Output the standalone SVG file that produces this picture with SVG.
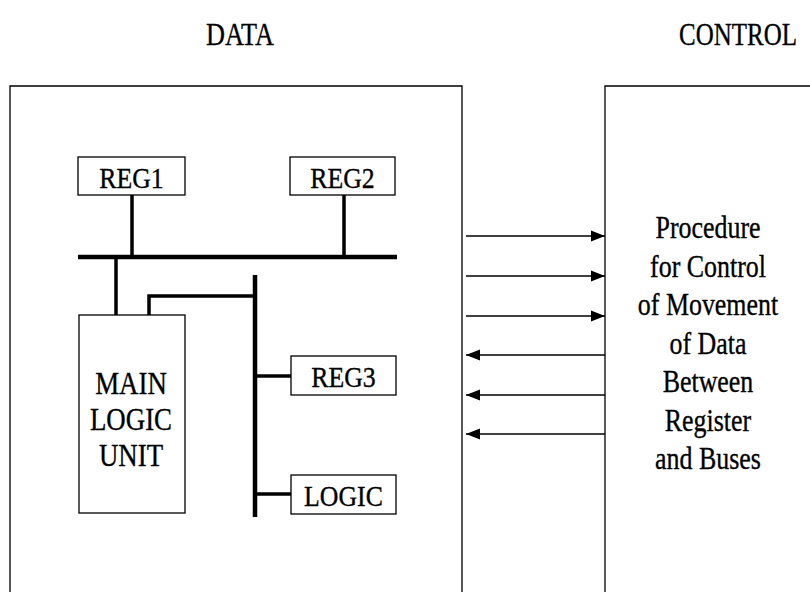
<svg xmlns="http://www.w3.org/2000/svg" width="810" height="592" viewBox="0 0 810 592">
<style>
  text { font-family: "Liberation Serif", "Times New Roman", serif; fill: #000; stroke: #000; stroke-width: 0.35; text-anchor: middle; }
  .hdr { font-size: 32px; }
  .reg { font-size: 30px; }
  .big { font-size: 32px; }
  .box { fill: #fff; stroke: #000; stroke-width: 1.3; }
  .frame { fill: none; stroke: #000; stroke-width: 1.3; }
  .bus { stroke: #000; stroke-width: 4.5; fill: none; stroke-linecap: butt; }
  .stem { stroke: #000; stroke-width: 3.5; fill: none; }
  .arr { stroke: #000; stroke-width: 1.6; fill: none; }
</style>
<defs>
  <marker id="ah" markerWidth="15" markerHeight="13" refX="14" refY="6.5" orient="auto" markerUnits="userSpaceOnUse">
    <path d="M0,1 L14,6.5 L0,12 Z" fill="#000"/>
  </marker>
</defs>
<rect width="810" height="592" fill="#fff"/>

<g id="data-title"><text class="hdr" transform="translate(240,45) scale(0.82,1)">DATA</text></g>
<g id="control-title"><text class="hdr" transform="translate(738,45) scale(0.78,1)">CONTROL</text></g>

<g id="data-frame"><path class="frame" d="M10,600 V86 H462 V600"/></g>
<g id="control-frame">
  <path class="frame" d="M605,600 V86 H815"/>
  <text class="big" transform="translate(708,238) scale(0.81,1)">Procedure</text>
  <text class="big" transform="translate(708,276.5) scale(0.81,1)">for Control</text>
  <text class="big" transform="translate(708,315) scale(0.81,1)">of Movement</text>
  <text class="big" transform="translate(708,353.5) scale(0.81,1)">of Data</text>
  <text class="big" transform="translate(708,392) scale(0.81,1)">Between</text>
  <text class="big" transform="translate(708,430.5) scale(0.81,1)">Register</text>
  <text class="big" transform="translate(708,469) scale(0.81,1)">and Buses</text>
</g>

<g id="connectors">
  <line class="bus" x1="78" y1="257" x2="397" y2="257"/>
  <line class="stem" x1="132" y1="195" x2="132" y2="257"/>
  <line class="stem" x1="344" y1="195" x2="344" y2="257"/>
  <line class="stem" x1="116" y1="257" x2="116" y2="315"/>
  <path class="stem" d="M149,315 V296 H255"/>
  <line class="bus" x1="255" y1="275" x2="255" y2="517"/>
  <line class="stem" x1="255" y1="376" x2="291" y2="376"/>
  <line class="stem" x1="255" y1="494" x2="291" y2="494"/>
  <line class="arr" x1="466" y1="236" x2="605" y2="236" marker-end="url(#ah)"/>
  <line class="arr" x1="466" y1="276" x2="605" y2="276" marker-end="url(#ah)"/>
  <line class="arr" x1="466" y1="316" x2="605" y2="316" marker-end="url(#ah)"/>
  <line class="arr" x1="605" y1="355" x2="466" y2="355" marker-end="url(#ah)"/>
  <line class="arr" x1="605" y1="395" x2="466" y2="395" marker-end="url(#ah)"/>
  <line class="arr" x1="605" y1="434" x2="466" y2="434" marker-end="url(#ah)"/>
</g>

<g id="reg1"><rect class="box" x="78" y="157" width="107" height="38"/><text class="reg" transform="translate(131.5,188) scale(0.86,1)">REG1</text></g>
<g id="reg2"><rect class="box" x="290" y="157" width="105" height="38"/><text class="reg" transform="translate(342.5,188) scale(0.86,1)">REG2</text></g>
<g id="main-logic-unit">
  <rect class="box" x="79" y="315" width="106" height="198"/>
  <text class="big" transform="translate(131,394) scale(0.84,1)">MAIN</text>
  <text class="big" transform="translate(131,430) scale(0.84,1)">LOGIC</text>
  <text class="big" transform="translate(131,466) scale(0.84,1)">UNIT</text>
</g>
<g id="reg3"><rect class="box" x="291" y="356" width="105" height="39"/><text class="reg" transform="translate(343.5,387) scale(0.86,1)">REG3</text></g>
<g id="logic"><rect class="box" x="291" y="475" width="105" height="39"/><text class="reg" transform="translate(343.5,506) scale(0.86,1)">LOGIC</text></g>
</svg>
